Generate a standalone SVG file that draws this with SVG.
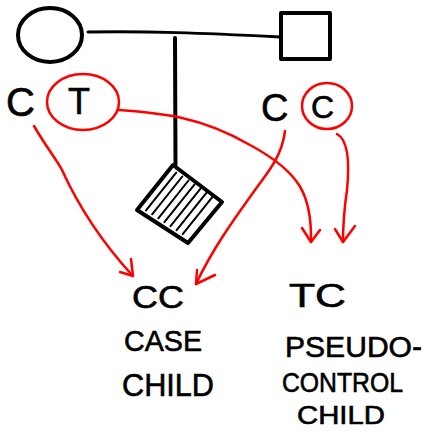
<svg xmlns="http://www.w3.org/2000/svg" width="425" height="431" viewBox="0 0 425 431">
  <style>
    .ink { fill: none; stroke: #000; stroke-linecap: round; stroke-linejoin: round; }
    .red { fill: none; stroke: #ff0000; stroke-width: 2.5; stroke-linecap: round; stroke-linejoin: round; }
    .lbl { font-family: "Liberation Sans", "DejaVu Sans", sans-serif; fill: #000; stroke: #000; stroke-width: 0.6; }
  </style>
  <rect width="425" height="431" fill="#fff"/>

  <!-- mother -->
  <g id="mother">
    <ellipse class="ink" cx="50" cy="35" rx="32" ry="27" stroke-width="4"/>
  </g>

  <!-- father -->
  <g id="father">
    <rect class="ink" x="281" y="13" width="49" height="46" stroke-width="4"/>
  </g>

  <!-- affected child, hatched -->
  <g id="child">
    <polygon class="ink" points="173,165 222,202 188,243 137,210" stroke-width="4"/>
    <g class="ink" stroke-width="2">
      <line x1="146" y1="210.4" x2="176.2" y2="172.6"/>
      <line x1="152.1" y1="214.3" x2="182.3" y2="176.5"/>
      <line x1="158.3" y1="218.3" x2="188.5" y2="180.5"/>
      <line x1="164.4" y1="222.2" x2="194.6" y2="184.4"/>
      <line x1="170.5" y1="226.2" x2="200.7" y2="188.4"/>
      <line x1="176.6" y1="230.2" x2="206.8" y2="192.4"/>
      <line x1="182.7" y1="234.1" x2="212.9" y2="196.3"/>
    </g>
  </g>

  <!-- pedigree lines -->
  <g id="connectors">
    <path class="ink" d="M88,32 C150,31 200,33 280,37" stroke-width="3"/>
    <path class="ink" d="M175,38 L175.5,165" stroke-width="4"/>

    <!-- transmitted alleles -->
    <path class="red" d="M34,126 C45,145 58,162 62,170 C78,205 100,240 132,275"/>
    <path class="red" d="M120,272 L133,276 L131,259"/>

    <path class="red" d="M285,131 C282,155 270,170 255,190 C232,222 212,250 196,284"/>
    <path class="red" d="M197,270 L196,284 L215,275"/>

    <path class="red" d="M119,110 C160,113 200,116 250,145 C300,172 312,195 311,242"/>
    <path class="red" d="M302,228 L311,242 L320,230"/>

    <path class="red" d="M337,134 C348,140 350,160 347,190 C344,210 343,225 343,242"/>
    <path class="red" d="M335,229 L343,242 L355,226"/>
  </g>

  <!-- parental genotypes -->
  <g id="mother-genotype">
    <text class="lbl" x="6" y="116" font-size="40">C</text>
    <ellipse class="red" cx="83" cy="102" rx="36" ry="28"/>
    <text class="lbl" x="68" y="114" font-size="36">T</text>
  </g>
  <g id="father-genotype">
    <text class="lbl" x="261" y="121" font-size="38">C</text>
    <ellipse class="red" cx="327" cy="106" rx="25" ry="23"/>
    <text class="lbl" x="311" y="118" font-size="32">C</text>
  </g>

  <!-- case child -->
  <g id="case">
    <text class="lbl" x="132" y="308" font-size="32" textLength="52" lengthAdjust="spacingAndGlyphs">CC</text>
    <text class="lbl" x="124" y="351" font-size="30" textLength="78" lengthAdjust="spacingAndGlyphs">CASE</text>
    <text class="lbl" x="122" y="396" font-size="31" textLength="92" lengthAdjust="spacingAndGlyphs">CHILD</text>
  </g>

  <!-- pseudo-control child -->
  <g id="pseudo-control">
    <text class="lbl" x="289" y="307" font-size="33" textLength="57" lengthAdjust="spacingAndGlyphs">TC</text>
    <text class="lbl" x="285" y="357" font-size="29" textLength="137" lengthAdjust="spacingAndGlyphs">PSEUDO-</text>
    <text class="lbl" x="282" y="392" font-size="27" textLength="121" lengthAdjust="spacingAndGlyphs">CONTROL</text>
    <text class="lbl" x="297" y="424" font-size="25" textLength="88" lengthAdjust="spacingAndGlyphs">CHILD</text>
  </g>
</svg>
